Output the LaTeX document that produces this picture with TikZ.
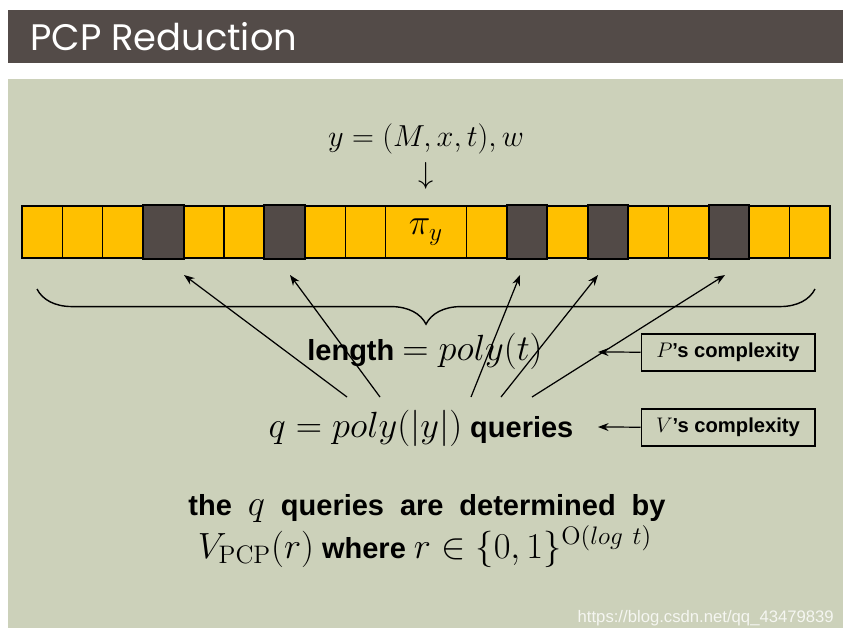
\documentclass[tikz,border=0pt]{standalone}
\usepackage[no-math]{fontspec}
\usepackage{amsmath, amssymb}
\setmainfont{Liberation Sans}
\newfontfamily\titlefont{Poppins}
\usetikzlibrary{arrows.meta, decorations.pathreplacing}

\definecolor{barbrown}{HTML}{534B48}
\definecolor{slidebg}{HTML}{CCD1BA}
\definecolor{cellyellow}{HTML}{FFC000}
\definecolor{celldark}{HTML}{524A47}

\newcommand{\slidemath}[1]{{\fontsize{20}{24}\selectfont$#1$}}

\begin{document}
\begin{tikzpicture}[x=0.02cm, y=-0.02cm,
    cell/.style={rectangle, draw, fill=cellyellow, line width=0.6pt, minimum width=0.808cm, minimum height=1.04cm, inner sep=0pt},
    darkcell/.style={cell, fill=celldark, line width=1.1pt, minimum height=1.08cm},
    infobox/.style={rectangle, draw, line width=0.6pt, minimum width=3.48cm, minimum height=0.74cm, inner sep=0pt, font=\fontsize{11.5}{13}\selectfont\bfseries},
    query/.style={-{Stealth[length=6pt, width=4.5pt]}, line width=0.7pt},
    bigtext/.style={font=\fontsize{16.5}{20}\selectfont\bfseries, anchor=base}]

    \useasboundingbox (0,0) rectangle (851,637);
    \fill[white] (0,0) rectangle (851,637);

    % Draw title bar and slide
    \fill[barbrown] (8,10) rectangle (843,63);
    \node[anchor=west, text=white, font=\titlefont\fontsize{21}{25}\selectfont] (title) at (24,37) {PCP Reduction};
    \fill[slidebg] (8,79) rectangle (843,628);

    % Input
    \node[anchor=base, font=\fontsize{19}{23}\selectfont] (input) at (426,146) {$y=(M,x,t),w$};
    \node[font=\fontsize{18}{22}\selectfont] (down) at (426,176) {$\downarrow$};

    % Draw tape
    \foreach \k in {0,...,8}
        \node[cell] (c\k) at ({42.2+40.4*\k},232) {};
    \node[cell, minimum width=1.616cm, font=\fontsize{20}{24}\selectfont] (c9) at (426,232) {$\pi_y$};
    \foreach \k in {10,...,18}
        \node[cell] (c\k) at ({42.2+40.4*(\k+1)},232) {};
    \foreach \k in {3,6,11,13,16}
        \node[darkcell] (d\k) at (c\k) {};

    % Brace
    \draw[line width=0.8pt, decorate, decoration={brace, mirror, amplitude=20pt}] (37,289) -- (815,289);

    % Labels
    \node[bigtext] (length) at (425,360) {length \slidemath{=poly(t)}};
    \node[bigtext] (queries) at (421,437) {\slidemath{q=poly(|y|)} queries};
    \node[infobox] (pbox) at (728,352.5) {$P$’s complexity};
    \node[infobox] (vbox) at (728,427.5) {$V$’s complexity};
    \node[bigtext, font={\fontsize{16.5}{20}\selectfont\bfseries\spaceskip=0.55em\relax}] (note1) at (427,515) {the \slidemath{q} queries are determined by};
    \node[bigtext] (note2) at (425,558) {\slidemath{V_{\mathrm{PCP}}(r)} where \slidemath{r\in\{0,1\}^{\mathrm{O}(log\ t)}}};
    \node[anchor=base east, text=white!80!slidebg, font=\fontsize{9.5}{11}\selectfont] (mark) at (840,622) {https://blog.csdn.net/qq\_43479839};

    % Draw connections
    \coordinate (plen) at (598,352);
    \coordinate (vq) at (598,427);
    \draw[query] (pbox) -- (plen);
    \draw[query] (vbox) -- (vq);

    \coordinate (s1) at (347,397);
    \coordinate (s2) at (380,397);
    \coordinate (s3) at (471,397);
    \coordinate (s4) at (501,397);
    \coordinate (s5) at (532,397);
    \coordinate (t1) at (184,275);
    \coordinate (t2) at (290,275);
    \coordinate (t3) at (520,275);
    \coordinate (t4) at (598,275);
    \coordinate (t5) at (725,275);
    \foreach \i in {1,...,5}
        \draw[query] (s\i) -- (t\i);
\end{tikzpicture}
\end{document}
